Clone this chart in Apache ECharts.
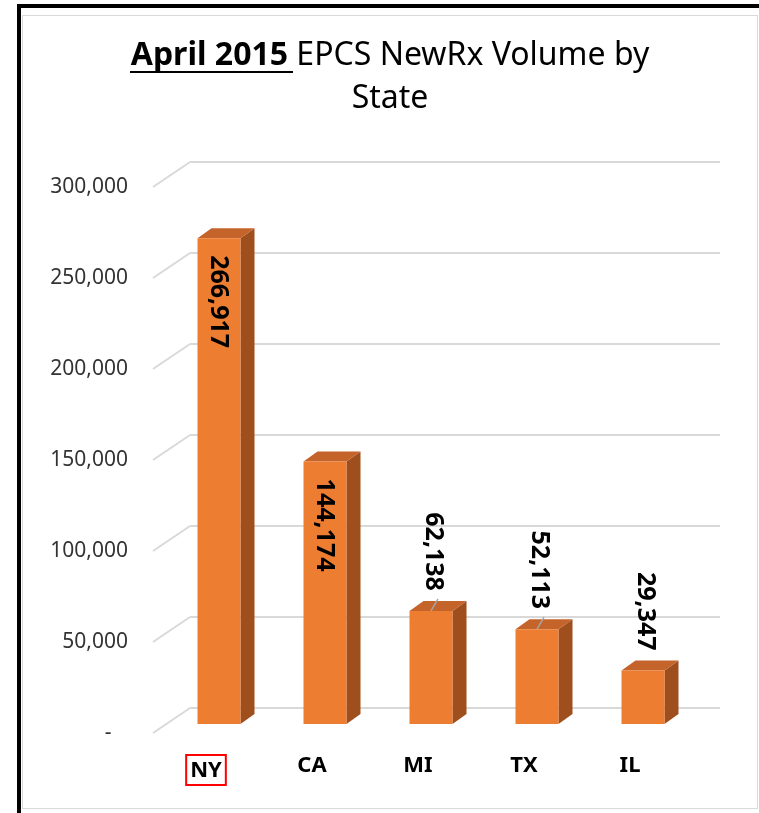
<!DOCTYPE html>
<html>
<head>
<meta charset="utf-8">
<script src="https://cdn.jsdelivr.net/npm/echarts@6/dist/echarts.min.js"></script>
<style>
  html, body { margin: 0; padding: 0; background: #fff; }
  #wrap { position: relative; width: 759px; height: 813px; overflow: hidden; }
  .edge-top { position: absolute; left: 17px; top: 4px; width: 742px; height: 4px; background: #000; }
  .edge-left { position: absolute; left: 17px; top: 4px; width: 4px; height: 809px; background: #000; }
  .box { position: absolute; left: 22px; top: 15px; width: 734px; height: 792px; border: 1px solid #d9d9d9; }
  #chart { position: absolute; left: 0; top: 0; width: 759px; height: 813px; }
</style>
</head>
<body>
<div id="wrap">
  <div class="edge-top"></div>
  <div class="edge-left"></div>
  <div class="box"></div>
  <div id="chart"></div>
</div>
<script>
// data
const states = ['NY', 'CA', 'MI', 'TX', 'IL'];
const volumes = [266917, 144174, 62138, 52113, 29347];
const yTicks = [0, 50000, 100000, 150000, 200000, 250000, 300000];
const withLeader = ['MI', 'TX'];

// 3D look
const FONT = '"Noto Sans", "Open Sans", sans-serif';
const FRONT = '#ED7D31', SIDE = '#9E4F1D', TOP = '#C4632A';
const GRID_COLOR = '#d9d9d9';
const frontDx = -24, frontDy = 16;   // bar front plane vs back wall
const wallDx = -37, wallDy = 25;     // side wall depth
const halfW = 21.5, depthX = 14, depthY = 10;

const fmt = v => v.toLocaleString('en-US');

const chart = echarts.init(document.getElementById('chart'));

function renderBar(params, api) {
  const i = api.value(0), v = api.value(1);
  const top = api.coord([i, v]);
  const base = api.coord([i, 0]);
  const cx = top[0] + frontDx;
  const yt = top[1] + frontDy, yb = base[1] + frontDy;
  const l = cx - halfW, r = cx + halfW;
  const children = [
    { type: 'polygon', shape: { points: [[r, yt], [r + depthX, yt - depthY], [r + depthX, yb - depthY], [r, yb]] },
      style: { fill: SIDE } },
    { type: 'polygon', shape: { points: [[l, yt], [l + depthX, yt - depthY], [r + depthX, yt - depthY], [r, yt]] },
      style: { fill: TOP } },
    { type: 'rect', shape: { x: l, y: yt, width: r - l, height: yb - yt }, style: { fill: FRONT } }
  ];
  const inside = (yb - yt) > 200;
  const labelStyle = {
    text: fmt(v), x: 0, y: 0, verticalAlign: 'middle',
    fontSize: 25, fontWeight: 'bold', fontFamily: FONT, fill: '#000'
  };
  if (inside) {
    children.push({ type: 'text', x: cx - 1, y: yt + 17, rotation: -Math.PI / 2,
      style: Object.assign({}, labelStyle, { align: 'left' }) });
  } else {
    children.push({ type: 'text', x: cx + 2, y: yt - 20, rotation: -Math.PI / 2,
      style: Object.assign({}, labelStyle, { align: 'right' }) });
    if (withLeader.indexOf(states[i]) >= 0) {
      children.push({ type: 'line', shape: { x1: cx, y1: yt, x2: cx + 7, y2: yt - 12 },
        style: { stroke: '#a6a6a6', lineWidth: 1.5 } });
    }
  }
  return { type: 'group', children: children };
}

function renderWall(params, api) {
  const p = api.coord([0, api.value(1)]);
  const x0 = params.coordSys.x;
  return {
    type: 'line',
    shape: { x1: x0 + wallDx, y1: p[1] + wallDy, x2: x0, y2: p[1] },
    style: { stroke: GRID_COLOR, lineWidth: 2 }
  };
}

const option = {
  animation: false,
  graphic: [
    {
      type: 'text', x: 390, y: 56,
      style: {
        text: '{b|April 2015 }{n|EPCS NewRx Volume by}',
        align: 'center', verticalAlign: 'middle',
        rich: {
          b: { fontSize: 32, fontWeight: 'bold', fontFamily: FONT, color: '#000' },
          n: { fontSize: 32, fontFamily: FONT, color: '#000' }
        }
      }
    },
    {
      type: 'text', x: 390, y: 99,
      style: { text: 'State', align: 'center', verticalAlign: 'middle', fontSize: 32, fontFamily: FONT, fill: '#000' }
    },
    {
      type: 'line', shape: { x1: 130, y1: 72, x2: 293, y2: 72 },
      style: { stroke: '#000', lineWidth: 2 }
    }
  ],
  grid: [
    { left: 190, right: 39, top: 162, bottom: 105 },
    { left: 153, right: 76, top: 187, bottom: 80 }
  ],
  xAxis: [
    { gridIndex: 0, type: 'category', data: states, show: false },
    {
      gridIndex: 1, type: 'category', data: states,
      axisLine: { show: false }, axisTick: { show: false },
      axisLabel: {
        interval: 0, margin: 22, fontSize: 22, fontWeight: 'bold', fontFamily: FONT, color: '#000',
        formatter: (val, idx) => idx === 0 ? '{box|' + val + '}' : val,
        rich: {
          box: {
            fontSize: 22, fontWeight: 'bold', fontFamily: FONT, color: '#000',
            borderColor: '#ff0000', borderWidth: 2, padding: [5, 4, 3, 4]
          }
        }
      }
    }
  ],
  yAxis: [
    {
      gridIndex: 0, type: 'value', min: 0, max: 300000, interval: 50000,
      axisLabel: { show: false }, axisLine: { show: false }, axisTick: { show: false },
      splitLine: { lineStyle: { color: GRID_COLOR, width: 2 } }
    },
    {
      gridIndex: 1, type: 'value', min: 0, max: 300000, interval: 50000,
      axisLine: { show: false }, axisTick: { show: false }, splitLine: { show: false },
      axisLabel: {
        margin: 25, fontSize: 21, fontFamily: FONT, color: '#333',
        formatter: v => v === 0 ? '-   ' : fmt(v)
      }
    }
  ],
  series: [
    {
      type: 'custom', xAxisIndex: 0, yAxisIndex: 0, silent: true,
      renderItem: renderWall,
      data: yTicks.map(v => [0, v]),
      z: 1
    },
    {
      type: 'custom', xAxisIndex: 0, yAxisIndex: 0, silent: true,
      renderItem: renderBar,
      data: volumes.map((v, i) => [i, v]),
      z: 2
    }
  ]
};

chart.setOption(option);
</script>
</body>
</html>
